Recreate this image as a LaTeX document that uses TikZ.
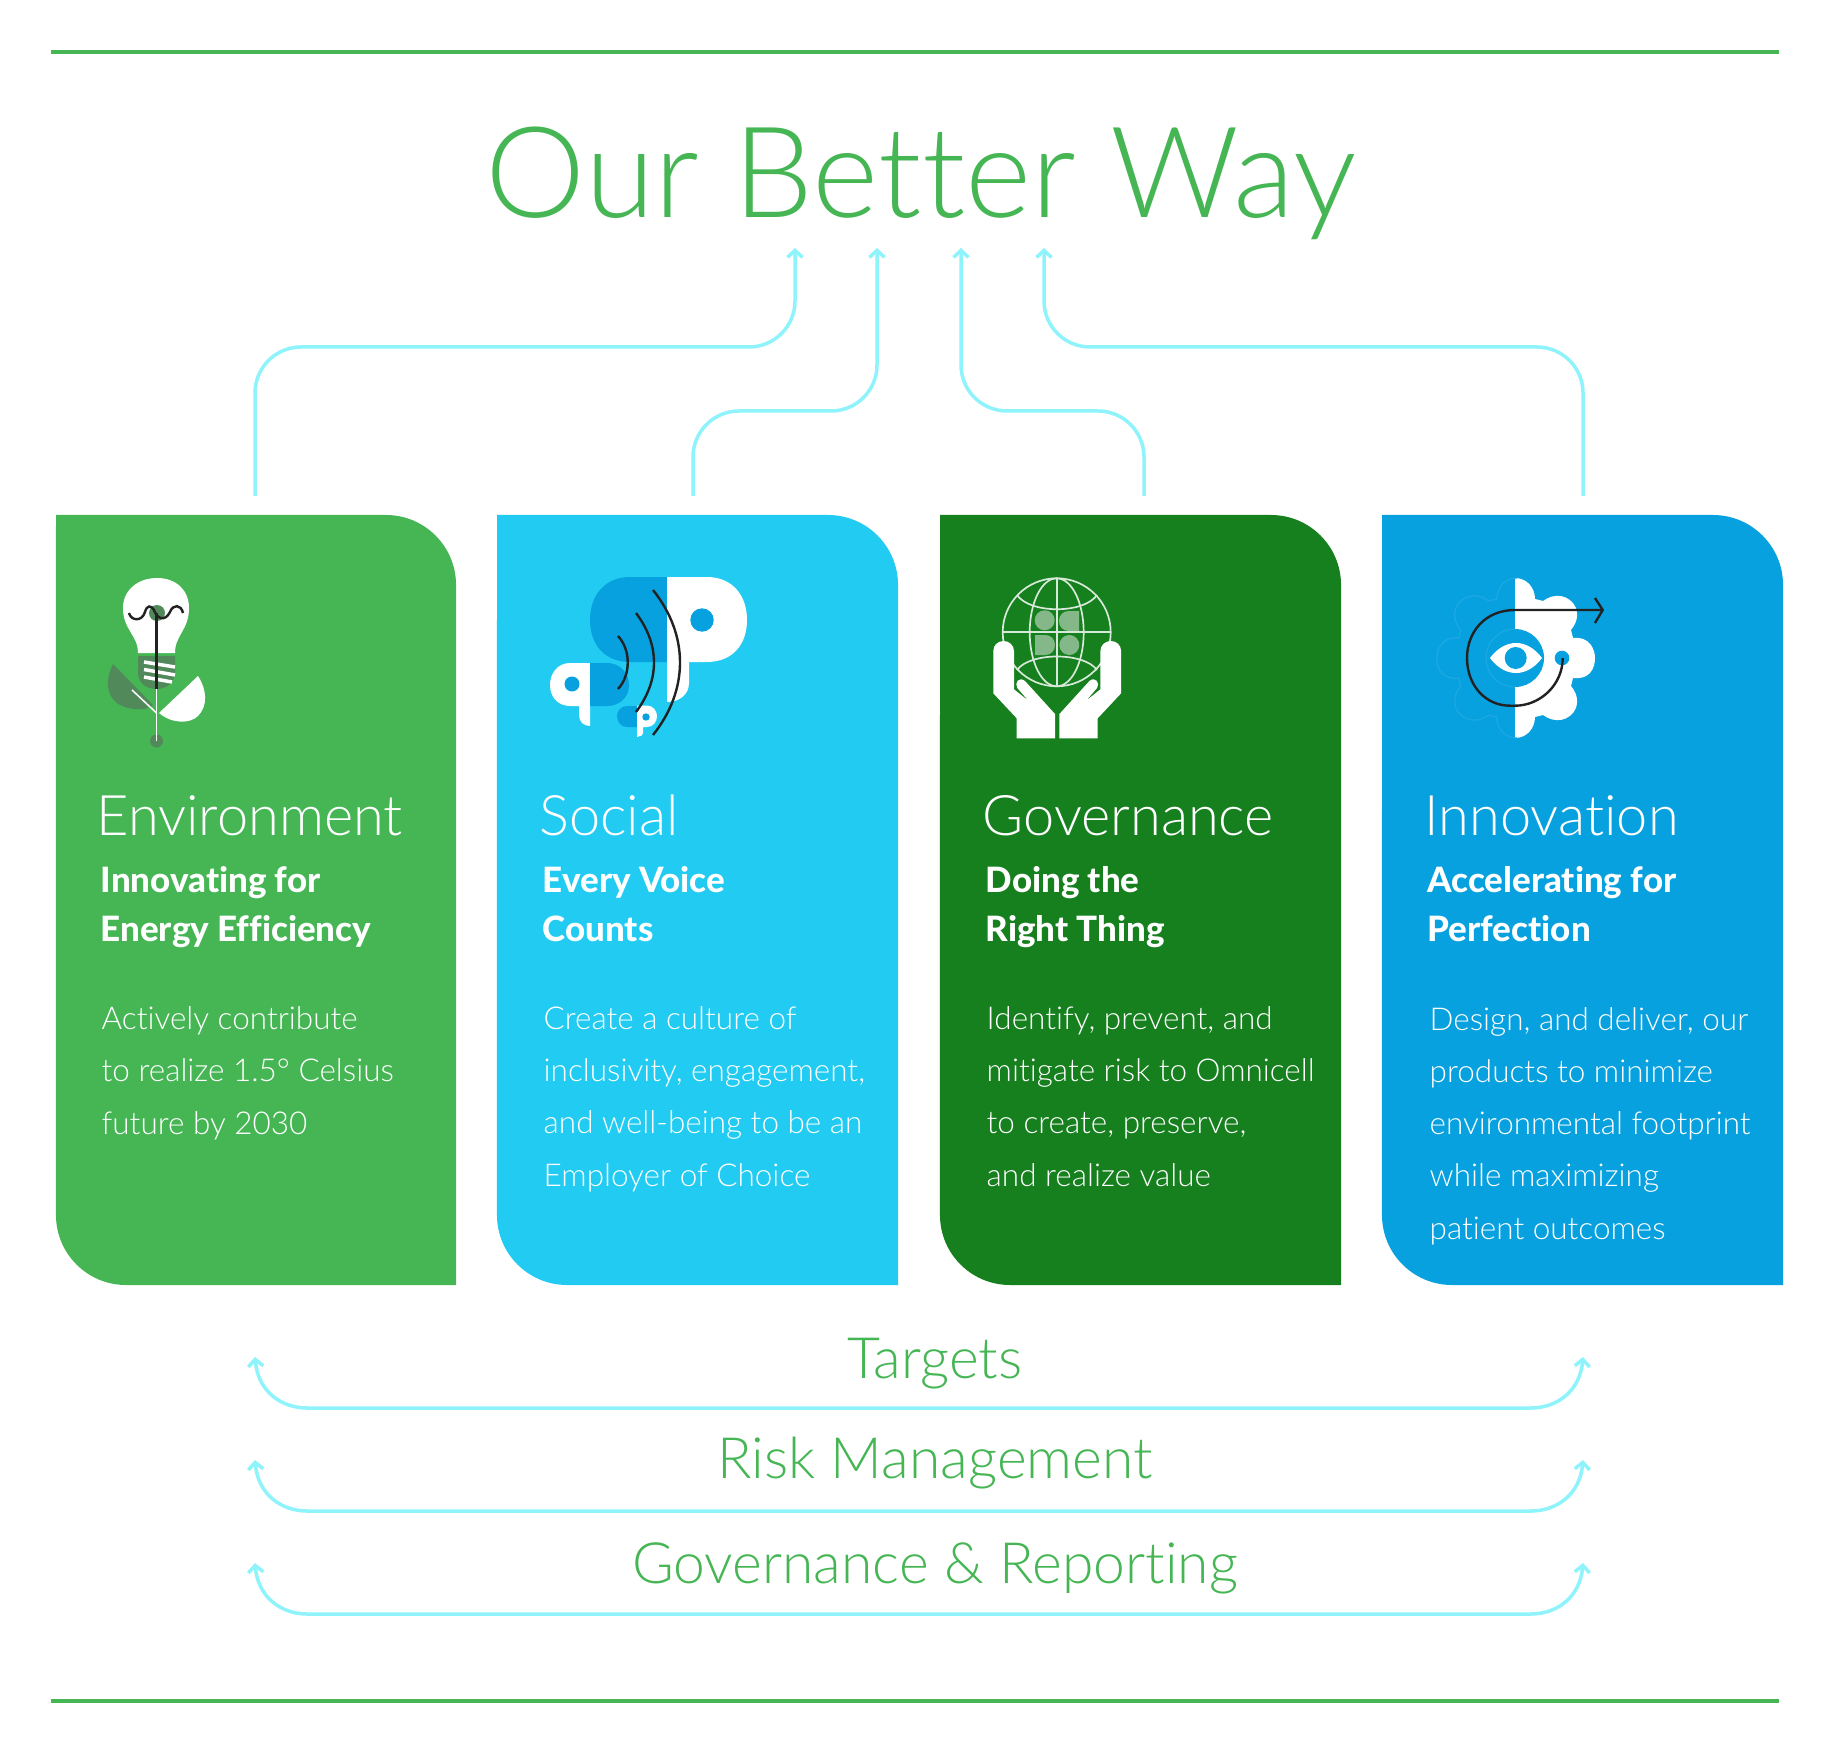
\documentclass[tikz,border=0pt]{standalone}
\usepackage{fontspec}
\usetikzlibrary{arrows.meta}
\setmainfont[Ligatures=NoCommon]{Lato}
\newfontfamily\thinfont[Ligatures=NoCommon]{Lato Light}
\newfontfamily\heavyfont[Ligatures=NoCommon]{Lato Heavy}

\definecolor{barcol}{HTML}{46B655}
\definecolor{flowcol}{HTML}{8EF3FB}
\definecolor{envcol}{HTML}{46B655}
\definecolor{soccol}{HTML}{22CBF1}
\definecolor{govcol}{HTML}{167F1E}
\definecolor{inncol}{HTML}{08A1DF}
\definecolor{inkcol}{HTML}{222222}
\definecolor{leafcol}{HTML}{51895B}
\definecolor{lightcol}{HTML}{84B888}
\definecolor{ghostcol}{HTML}{1CA8E2}

\tikzset{
	bar/.style={line width=0.04cm, color=barcol},
	flow/.style={line width=0.035cm, color=flowcol, -{Straight Barb[length=0.07cm,width=0.15cm]}},
	flowboth/.style={line width=0.035cm, color=flowcol, {Straight Barb[length=0.07cm,width=0.15cm]}-{Straight Barb[length=0.07cm,width=0.15cm]}},
	ink/.style={line width=0.024cm, color=inkcol},
	heading/.style={anchor=base west, inner sep=0, text=white, font=\thinfont\fontsize{15.9}{20}\selectfont},
	motto/.style={anchor=base west, inner sep=0, text=white, align=left, font=\heavyfont\fontsize{9.93}{13.9}\selectfont},
	blurb/.style={anchor=base west, inner sep=0, text=white, align=left, font=\thinfont\fontsize{8.95}{14.8}\selectfont},
	band/.style={anchor=base, inner sep=0, text=barcol, font=\thinfont\fontsize{16.2}{20}\selectfont}
}

\def\cardshape[#1](#2:#3){\fill[#1] (#2,515) -- ({#2+#3-70},515) arc[start angle=90,end angle=0,radius=0.7cm] -- ({#2+#3},1285) -- ({#2+70},1285) arc[start angle=270,end angle=180,radius=0.7cm] -- cycle;}

\begin{document}
\begin{tikzpicture}[x=0.01cm, y=-0.01cm]
		\useasboundingbox (0, 0) rectangle (1833, 1755);
		%%%%% START %%%%%
		
		\draw[bar] (51, 52) -- (1779, 52);
		\draw[bar] (51, 1701) -- (1779, 1701);
		
		\node[anchor=base, inner sep=0, text=barcol, font=\thinfont\fontsize{36}{44}\selectfont] (title) at (921, 218) {Our Better Way};
		
		\cardshape[envcol](56:400);
		\cardshape[soccol](497:401);
		\cardshape[govcol](940:401);
		\cardshape[inncol](1382:401);
		
		\coordinate (envtop) at (255, 496);
		\coordinate (soctop) at (693, 496);
		\coordinate (govtop) at (1144, 496);
		\coordinate (inntop) at (1583, 496);
		\coordinate (envbend) at (795, 347);
		\coordinate (socbend) at (877, 411);
		\coordinate (govbend) at (961, 411);
		\coordinate (innbend) at (1044, 347);
		\coordinate (envgoal) at (795, 248);
		\coordinate (socgoal) at (877, 248);
		\coordinate (govgoal) at (961, 248);
		\coordinate (inngoal) at (1044, 248);
		
		\draw[flow, rounded corners=0.46cm] (envtop) |- (envbend) -- (envgoal);
		\draw[flow, rounded corners=0.46cm] (soctop) |- (socbend) -- (socgoal);
		\draw[flow, rounded corners=0.46cm] (govtop) |- (govbend) -- (govgoal);
		\draw[flow, rounded corners=0.46cm] (inntop) |- (innbend) -- (inngoal);
		
		\node[heading] (envhead) at (96, 835) {Environment};
		\node[motto] (envmotto) at (100, 941) {Innovating for\\Energy Efficiency};
		\node[blurb] (envblurb) at (101, 1134) {Actively contribute\\to realize 1.5° Celsius\\future by 2030};
		
		\node[heading] (sochead) at (539, 835) {Social};
		\node[motto] (socmotto) at (542, 941) {Every Voice\\Counts};
		\node[blurb] (socblurb) at (543, 1186) {Create a culture of\\inclusivity, engagement,\\and well-being to be an\\Employer of Choice};
		
		\node[heading] (govhead) at (982, 835) {Governance};
		\node[motto] (govmotto) at (985, 941) {Doing the\\Right Thing};
		\node[blurb] (govblurb) at (986, 1186) {Identify, prevent, and\\mitigate risk to Omnicell\\to create, preserve,\\and realize value};
		
		\node[heading] (innhead) at (1424, 835) {Innovation};
		\node[motto] (innmotto) at (1427, 941) {Accelerating for\\Perfection};
		\node[blurb] (innblurb) at (1429, 1239) {Design, and deliver, our\\products to minimize\\environmental footprint\\while maximizing\\patient outcomes};
		
		\node[band] (targets) at (935, 1378) {Targets};
		\node[band] (risk) at (935, 1478) {Risk Management};
		\node[band] (report) at (935, 1583) {Governance \& Reporting};
		
		\coordinate (targetsl) at (255, 1357);
		\coordinate (targetsr) at (1583, 1357);
		\coordinate (riskl) at (255, 1460);
		\coordinate (riskr) at (1583, 1460);
		\coordinate (reportl) at (255, 1563);
		\coordinate (reportr) at (1583, 1563);
		
		\draw[flowboth] (targetsl) .. controls (258, 1392) and (282, 1408) .. (307, 1408) -- (1531, 1408) .. controls (1556, 1408) and (1580, 1392) .. (targetsr);
		\draw[flowboth] (riskl) .. controls (258, 1495) and (282, 1511) .. (307, 1511) -- (1531, 1511) .. controls (1556, 1511) and (1580, 1495) .. (riskr);
		\draw[flowboth] (reportl) .. controls (258, 1598) and (282, 1614) .. (307, 1614) -- (1531, 1614) .. controls (1556, 1614) and (1580, 1598) .. (reportr);
		
		%%%%% BULB %%%%%
		
		\fill[white] (138, 653) .. controls (138, 635) and (123, 630) .. (123, 608) .. controls (123, 590) and (138, 578) .. (157, 578) .. controls (176, 578) and (189, 590) .. (189, 608) .. controls (189, 630) and (175, 635) .. (175, 653) -- cycle;
		\fill[leafcol] (138, 656) -- (175, 656) -- (175, 672) .. controls (175, 684) and (165, 689) .. (157, 689) .. controls (147, 689) and (138, 684) .. (138, 672) -- cycle;
		\draw[white, line width=0.035cm] (144, 662) -- (175, 667);
		\draw[white, line width=0.035cm] (144, 669.5) -- (175, 675);
		\draw[white, line width=0.035cm] (144, 677) -- (172, 682);
		\fill[leafcol] (157, 613) circle (8);
		\fill[leafcol] (113, 664) .. controls (100, 690) and (112, 712) .. (145, 709) -- (153, 705) -- cycle;
		\fill[white] (198, 676) -- (159, 713) .. controls (172, 724) and (190, 724) .. (198, 716) .. controls (208, 706) and (207, 690) .. (198, 676);
		\fill[leafcol] (156.5, 741) circle (6.5);
		\draw[white, line width=0.015cm] (156.5, 689) -- (156.5, 741);
		\draw[white, line width=0.015cm] (132, 690) -- (156.5, 713);
		\draw[ink] (129, 613) .. controls (131, 621) and (142, 622) .. (145, 612) .. controls (147, 605) and (151, 605) .. (154, 610) .. controls (157, 619) and (165, 622) .. (170, 612) .. controls (173, 604) and (181, 604) .. (183, 613);
		\draw[ink] (156.5, 613) -- (156.5, 689);
		
		%%%%% VOICES %%%%%
		
		\fill[inncol] (667, 577) -- (630, 577) .. controls (605, 577) and (590, 595) .. (590, 620) .. controls (590, 645) and (605, 662) .. (630, 662) -- (667, 662) -- cycle;
		\fill[white] (667, 577) -- (707, 577) .. controls (732, 577) and (747, 595) .. (747, 620) .. controls (747, 645) and (732, 662) .. (707, 662) -- (689, 662) -- (689, 683) .. controls (689, 694) and (680, 702) .. (667, 702) -- cycle;
		\fill[inncol] (702, 620) circle (11.7);
		\fill[white] (590, 663) -- (570, 663) .. controls (558, 663) and (550, 673) .. (550, 685) .. controls (550, 697) and (558, 706) .. (570, 706) -- (579, 706) -- (579, 715) .. controls (579, 722) and (584, 726) .. (590, 726) -- cycle;
		\fill[inncol] (590, 663) -- (607, 663) .. controls (620, 663) and (629, 673) .. (629, 685) .. controls (629, 697) and (620, 706) .. (607, 706) -- (590, 706) -- cycle;
		\fill[inncol] (572, 684) circle (7.5);
		\fill[inncol] (637, 706) -- (627, 706) .. controls (621, 706) and (617, 711) .. (617, 716) .. controls (617, 722) and (621, 727) .. (627, 727) -- (637, 727) -- cycle;
		\fill[white] (637, 705.5) -- (647, 705.5) .. controls (653, 705.5) and (657, 711) .. (657, 716) .. controls (657, 722) and (653, 727) .. (647, 727) -- (643, 727) -- (643, 733) .. controls (643, 735) and (640, 737) .. (637, 737) -- cycle;
		\fill[inncol] (646, 717) circle (3.7);
		\draw[ink] (618, 636) .. controls (631, 650) and (631, 675) .. (618, 689);
		\draw[ink] (636, 613) .. controls (660, 645) and (660, 680) .. (636, 712);
		\draw[ink] (653, 590) .. controls (689, 635) and (689, 690) .. (653, 735);
		
		%%%%% GLOBE %%%%%
		
		\fill[lightcol] (1044.7, 620.3) circle (10);
		\fill[lightcol] (1079, 611) -- (1069, 611) .. controls (1063, 611) and (1059, 615) .. (1059, 621) .. controls (1059, 627) and (1063, 631) .. (1069, 631) -- (1079, 631) -- cycle;
		\fill[lightcol] (1035, 635) -- (1045, 635) .. controls (1051, 635) and (1055, 639) .. (1055, 645) .. controls (1055, 651) and (1051, 655) .. (1045, 655) -- (1035, 655) -- cycle;
		\fill[lightcol] (1069.3, 645) circle (10);
		\draw[white!83!govcol, line width=0.017cm] (1056.7, 632.3) circle (54);
		\draw[white!83!govcol, line width=0.017cm] (1056.7, 632.3) ellipse (27 and 54);
		\draw[white!83!govcol, line width=0.017cm] (1056.7, 578.3) -- (1056.7, 686.3);
		\draw[white!83!govcol, line width=0.017cm] (1002.7, 632.3) -- (1110.7, 632.3);
		\draw[white!83!govcol, line width=0.017cm] (1017, 595) .. controls (1030, 614) and (1084, 614) .. (1097, 595);
		\draw[white!83!govcol, line width=0.017cm] (1017, 670) .. controls (1030, 652) and (1084, 652) .. (1097, 670);
		\fill[white] (993.3, 693.3) -- (993.3, 651) .. controls (993.3, 645) and (998, 641) .. (1003.5, 641) .. controls (1009, 641) and (1014, 645) .. (1014, 651) -- (1014, 689.3) -- (1028.3, 700.7) -- (1017.3, 688) .. controls (1014, 683) and (1019, 676) .. (1025, 681) -- (1055, 714) -- (1055, 738.3) -- (1016.7, 738.3) -- (1016.7, 718.3) -- cycle;
		\fill[white] (1121.1, 693.3) -- (1121.1, 651) .. controls (1121.1, 645) and (1116.4, 641) .. (1110.9, 641) .. controls (1105.4, 641) and (1100.4, 645) .. (1100.4, 651) -- (1100.4, 689.3) -- (1086.1, 700.7) -- (1097.1, 688) .. controls (1100.4, 683) and (1095.4, 676) .. (1089.4, 681) -- (1059.4, 714) -- (1059.4, 738.3) -- (1097.7, 738.3) -- (1097.7, 718.3) -- cycle;
		
		%%%%% EYE %%%%%
		
		\def\cogedge{(1515, 578) .. controls (1527, 578) and (1535, 588) .. (1535, 599) -- (1543, 601) .. controls (1555, 592) and (1570, 595) .. (1576, 608) .. controls (1579, 618) and (1575, 625) .. (1571, 630) -- (1573, 638) .. controls (1590, 636) and (1595, 650) .. (1595, 658) .. controls (1595, 668) and (1590, 680) .. (1573, 678) -- (1571, 686) .. controls (1575, 691) and (1579, 698) .. (1576, 708) .. controls (1570, 721) and (1555, 724) .. (1543, 715) -- (1535, 717) .. controls (1535, 728) and (1527, 738) .. (1515, 738)}
		\fill[white] \cogedge -- cycle;
		\begin{scope}[xshift=30.3cm, xscale=-1]
			\draw[ghostcol, line width=0.012cm] \cogedge;
		\end{scope}
		\fill[inncol] (1515, 629) arc[start angle=90, end angle=-90, radius=0.29cm] -- cycle;
		\draw[ghostcol, line width=0.012cm] (1515, 629) arc[start angle=90, end angle=270, radius=0.29cm];
		\fill[white] (1490, 658) .. controls (1505, 638) and (1527, 638) .. (1542, 658) .. controls (1527, 678) and (1505, 678) .. (1490, 658);
		\fill[inncol] (1515.7, 658) circle (11);
		\fill[inncol] (1562, 658) circle (7.3);
		\draw[ink] (1562.7, 658) .. controls (1562.7, 685) and (1540, 705.7) .. (1515, 705.7) -- (1510, 705.7) .. controls (1485, 705.7) and (1467, 685) .. (1467, 658) .. controls (1467, 632) and (1485, 610) .. (1515, 610) -- (1602.7, 610);
		\draw[ink] (1595, 598) -- (1602.7, 610) -- (1595, 623);
		
		%%%%% END %%%%%
	\end{tikzpicture}
\end{document}
